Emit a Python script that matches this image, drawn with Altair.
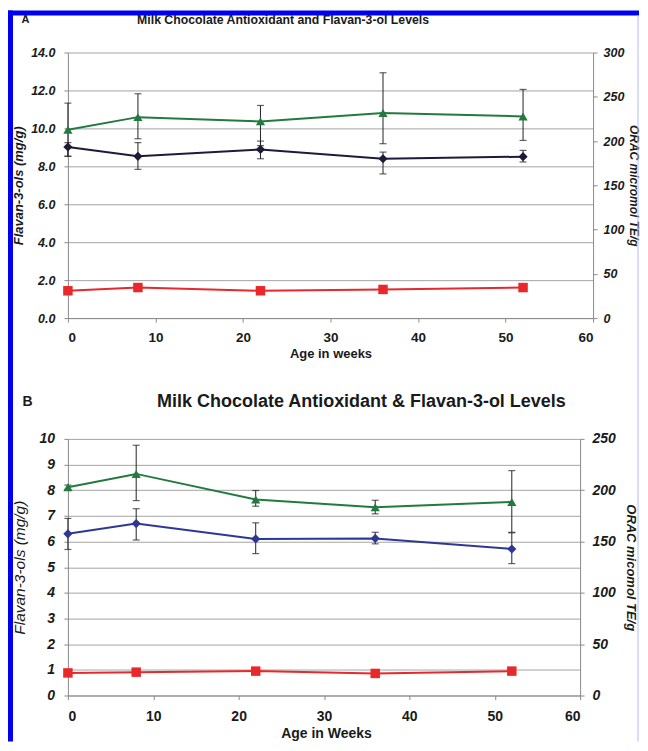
import altair as alt
import pandas as pd

weeks = [0, 8, 22, 36, 52]

# Panel A (ORAC on right axis, flavan-3-ols on left axis)
a_orac = [212.8, 227.0, 222.2, 231.6, 227.8]
a_orac_hi = [242.8, 253.4, 240.2, 277.1, 258.3]
a_orac_lo = [182.8, 202.6, 194.8, 197.0, 200.7]
a_flav = [9.02, 8.53, 8.89, 8.40, 8.51]
a_flav_hi = [9.25, 9.25, 9.33, 8.75, 8.84]
a_flav_lo = [8.53, 7.84, 8.40, 7.60, 8.23]
a_red = [1.44, 1.61, 1.44, 1.51, 1.61]

# Panel B
b_orac = [202.9, 215.9, 190.9, 183.4, 188.6]
b_orac_hi = [205.0, 243.8, 199.7, 190.2, 219.1]
b_orac_lo = [200.8, 189.9, 184.4, 177.0, 159.0]
b_flav = [6.30, 6.70, 6.10, 6.12, 5.71]
b_flav_hi = [6.90, 7.28, 6.73, 6.36, 6.34]
b_flav_lo = [5.69, 6.06, 5.53, 5.91, 5.14]
b_red = [0.88, 0.91, 0.95, 0.86, 0.95]

x_ticks = [0, 10, 20, 30, 40, 50, 60]

FONT = "Liberation Sans"
GREEN = "#237a3f"
RED = "#e8282b"
ERR = "#222222"
TXT = "#1a1a1a"
AXC = "#8a8a8a"
GRID = "#a4a4a4"


def text_at(txt, x, y, size, weight="bold", style="normal"):
    return alt.Chart(alt.Data(values=[{}])).mark_text(
        font=FONT, fontSize=size, fontWeight=weight, fontStyle=style,
        color=TXT, align="center", baseline="middle").encode(
        x=alt.value(x), y=alt.value(y), text=alt.value(txt))


def make_panel(orac, orac_hi, orac_lo, flav, flav_hi, flav_lo, red, *,
               w, h, xtitle, ltitle, rtitle, lmax, lstep, lfmt, rmax,
               dcolor, ylab, xlab, xtsize, ltsize, rtsize,
               title_text, title_size, title_xy, letter, letter_size,
               letter_xy, ltitle_weight, xl_pad, xt_pad, ll_pad, lt_pad,
               rl_pad, rt_pad, extras):
    df = pd.DataFrame({
        "week": weeks, "orac": orac, "orac_hi": orac_hi, "orac_lo": orac_lo,
        "flav": flav, "flav_hi": flav_hi, "flav_lo": flav_lo, "red": red,
    })
    xaxis_kw = dict(values=x_ticks, grid=False,
                    tickSize=4, tickColor=AXC, domainColor=AXC,
                    labelFont=FONT, labelFontSize=xlab,
                    labelFontWeight="bold", labelColor=TXT,
                    labelPadding=xl_pad)
    if xtitle is not None:
        xaxis_kw.update(title=xtitle, titleFont=FONT, titleFontSize=xtsize,
                        titleFontWeight="bold", titleColor=TXT,
                        titlePadding=xt_pad)
    else:
        xaxis_kw.update(title=None)
    xenc = alt.X("week:Q", scale=alt.Scale(domain=[0, 60], nice=False),
                 axis=alt.Axis(**xaxis_kw))
    lvals = []
    v = 0
    while v <= lmax + 1e-9:
        lvals.append(round(v, 3))
        v += lstep
    laxis = alt.Axis(values=lvals, format=lfmt, title=ltitle, grid=True,
                     gridColor=GRID, tickSize=4, tickColor=AXC,
                     domainColor=AXC, labelFont=FONT, labelFontSize=ylab,
                     labelFontWeight="bold", labelFontStyle="italic",
                     labelColor=TXT, labelPadding=ll_pad, titleFont=FONT,
                     titleFontSize=ltsize,
                     titleFontWeight=ltitle_weight, titleFontStyle="italic",
                     titleColor=TXT, titlePadding=lt_pad)
    lscale = alt.Scale(domain=[0, lmax], nice=False)
    raxis = alt.Axis(orient="right", values=list(range(0, rmax + 1, 50)),
                     title=rtitle, grid=False, tickSize=4, tickColor=AXC,
                     domainColor=AXC, labelFont=FONT, labelFontSize=ylab,
                     labelFontWeight="bold", labelFontStyle="italic",
                     labelColor=TXT, labelPadding=rl_pad, titleFont=FONT,
                     titleFontSize=rtsize, titleFontWeight="bold",
                     titleFontStyle="italic", titleColor=TXT,
                     titlePadding=rt_pad)
    rscale = alt.Scale(domain=[0, rmax], nice=False)

    base = alt.Chart(df)
    yl = lambda f: alt.Y(f"{f}:Q", scale=lscale, axis=laxis)
    yr = lambda f: alt.Y(f"{f}:Q", scale=rscale, axis=raxis)

    left = alt.layer(
        base.mark_rule(color=ERR, strokeWidth=1).encode(
            x=xenc, y=yl("flav_lo"), y2="flav_hi"),
        base.mark_tick(color=ERR, orient="horizontal", size=7,
                       thickness=1.2).encode(x=xenc, y=yl("flav_lo")),
        base.mark_tick(color=ERR, orient="horizontal", size=7,
                       thickness=1.2).encode(x=xenc, y=yl("flav_hi")),
        base.mark_line(color=dcolor, strokeWidth=2).encode(x=xenc, y=yl("flav")),
        base.mark_point(shape="diamond", filled=True, size=85, opacity=1,
                        color=dcolor).encode(x=xenc, y=yl("flav")),
        base.mark_line(color=RED, strokeWidth=2).encode(x=xenc, y=yl("red")),
        base.mark_point(shape="square", filled=True, size=90, opacity=1,
                        color=RED).encode(x=xenc, y=yl("red")),
        text_at(title_text, title_xy[0], title_xy[1], title_size),
        text_at(letter, letter_xy[0], letter_xy[1], letter_size),
        *extras,
    )
    right = alt.layer(
        base.mark_rule(color=ERR, strokeWidth=1).encode(
            x=xenc, y=yr("orac_lo"), y2="orac_hi"),
        base.mark_tick(color=ERR, orient="horizontal", size=7,
                       thickness=1.2).encode(x=xenc, y=yr("orac_lo")),
        base.mark_tick(color=ERR, orient="horizontal", size=7,
                       thickness=1.2).encode(x=xenc, y=yr("orac_hi")),
        base.mark_line(color=GREEN, strokeWidth=2).encode(x=xenc, y=yr("orac")),
        base.mark_point(shape="triangle-up", filled=True, size=85, opacity=1,
                        color=GREEN).encode(x=xenc, y=yr("orac")),
    )
    return alt.layer(left, right).resolve_scale(y="independent").properties(
        width=w, height=h)


def deco_rect(x, x2, y, y2, color):
    return alt.Chart(alt.Data(values=[{}])).mark_rect(color=color).encode(
        x=alt.value(x), x2=alt.value(x2), y=alt.value(y), y2=alt.value(y2))


# page frame (relative to panel A plot origin at page x=68, y=52)
border = [
    deco_rect(-60, -55, -42, 690, "#0000f0"),
    deco_rect(-60, 572, -42, -37, "#0000f0"),
    deco_rect(570.5, 571.5, -37, 690, "#b4bcf2"),
]

panel_a = make_panel(
    a_orac, a_orac_hi, a_orac_lo, a_flav, a_flav_hi, a_flav_lo, a_red,
    w=526, h=266, xtitle="Age in weeks", ltitle="Flavan-3-ols (mg/g)",
    rtitle="ORAC micromol TE/g", lmax=14, lstep=2, lfmt=".1f", rmax=300,
    dcolor="#1c1c38", ylab=12.5, xlab=13.5, xtsize=13, ltsize=13, rtsize=12,
    title_text="Milk Chocolate Antioxidant and Flavan-3-ol Levels",
    title_size=12.3, title_xy=(215.5, -33), letter="A", letter_size=11,
    letter_xy=(-42.5, -33), ltitle_weight="bold",
    xl_pad=8, xt_pad=4, ll_pad=9, lt_pad=5, rl_pad=6, rt_pad=3,
    extras=border)

# panel B x-axis title drawn as text (relative to B plot origin, page y=439)
b_xtitle = [text_at("Age in Weeks", 259, 296, 14)]

panel_b = make_panel(
    b_orac, b_orac_hi, b_orac_lo, b_flav, b_flav_hi, b_flav_lo, b_red,
    w=513, h=257, xtitle=None, ltitle="Flavan-3-ols (mg/g)",
    rtitle="ORAC micomol TE/g", lmax=10, lstep=1, lfmt="d", rmax=250,
    dcolor="#2f3794", ylab=14, xlab=14, xtsize=14, ltsize=15.5, rtsize=13,
    title_text="Milk Chocolate Antioxidant & Flavan-3-ol Levels",
    title_size=18, title_xy=(294, -37), letter="B", letter_size=14,
    letter_xy=(-40.5, -36.5), ltitle_weight="normal",
    xl_pad=10, xt_pad=0, ll_pad=9.5, lt_pad=11, rl_pad=8, rt_pad=8.5,
    extras=b_xtitle)

chart = alt.vconcat(panel_a, panel_b, spacing=121).properties(
    padding={"left": 0, "top": 2, "right": 0, "bottom": 0},
    background="white", bounds="flush",
).configure_view(stroke=None)

chart.save("out.html", embed_options={"renderer": "svg", "actions": False})
